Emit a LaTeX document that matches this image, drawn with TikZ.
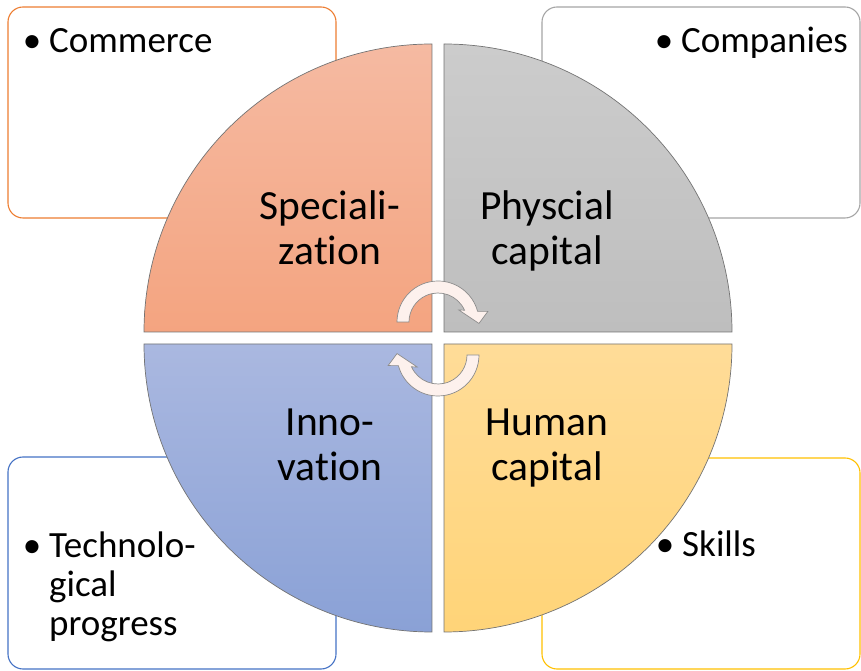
\documentclass[tikz,border=0pt]{standalone}
\usepackage{fontspec}
\setmainfont{Carlito}[Ligatures=NoCommon]

\definecolor{specTop}{RGB}{245,186,162}
\definecolor{specBot}{RGB}{244,164,128}
\definecolor{physTop}{RGB}{204,204,204}
\definecolor{physBot}{RGB}{190,190,190}
\definecolor{innoTop}{RGB}{170,184,224}
\definecolor{innoBot}{RGB}{138,161,214}
\definecolor{humTop}{RGB}{255,220,152}
\definecolor{humBot}{RGB}{255,212,120}
\definecolor{comEdge}{RGB}{237,125,49}
\definecolor{capEdge}{RGB}{165,165,165}
\definecolor{innEdge}{RGB}{68,114,196}
\definecolor{humEdge}{RGB}{255,192,0}
\definecolor{turnFill}{RGB}{253,241,237}

\begin{document}
\begin{tikzpicture}[x=1pt,y=1pt,
    box_style/.style={draw,rounded corners=15pt,line width=1.1pt,
                      minimum width=328pt,minimum height=211pt,inner sep=0pt},
    quad_style/.style={draw=black!55,line width=0.7pt},
    label_style/.style={align=center,anchor=base,inner sep=0pt,
                        font=\fontsize{41.5}{45}\selectfont},
    item_style/.style={align=left,anchor=base west,inner sep=0pt,
                       font=\fontsize{37}{39}\selectfont},
    turn_style/.style={draw=black!45,line width=0.7pt,fill=turnFill}]

  \useasboundingbox (0,0) rectangle (861,671);

  % boxes with the bullet points, behind the circle
  \node[box_style,draw=comEdge] (b_com) at (172,558.5) {};
  \node[box_style,draw=capEdge,minimum width=318pt] (b_cap) at (701,558.5) {};
  \node[box_style,draw=innEdge,minimum height=212pt] (b_inn) at (172,108) {};
  \node[box_style,draw=humEdge,minimum width=318pt] (b_hum) at (701,107.5) {};

  % the four quarters
  \path[quad_style,top color=specTop,bottom color=specBot]
    (432,339) -- (144,339) arc[start angle=180,end angle=90,radius=288] -- cycle;
  \path[quad_style,top color=physTop,bottom color=physBot]
    (444,339) -- (444,627) arc[start angle=90,end angle=0,radius=288] -- cycle;
  \path[quad_style,top color=innoTop,bottom color=innoBot]
    (432,327) -- (432,39) arc[start angle=270,end angle=180,radius=288] -- cycle;
  \path[quad_style,top color=humTop,bottom color=humBot]
    (444,327) -- (732,327) arc[start angle=0,end angle=-90,radius=288] -- cycle;

  % base of a two line node is its last line
  \node[label_style] (spec) at (330,406) {Speciali-\\zation};
  \node[label_style] (phys) at (547,406) {Physcial\\capital};
  \node[label_style] (inno) at (330,190) {Inno-\\vation};
  \node[label_style] (hum)  at (547,190) {Human\\capital};

  \node[item_style] (com)  at (49,618)  {\llap{\textbullet\hspace{8pt}}Commerce};
  \node[item_style] (comp) at (681,618) {\llap{\textbullet\hspace{8pt}}Companies};
  \node[item_style] (tech) at (49,35)   {\llap{\textbullet\hspace{8pt}}Technolo-\\gical\\progress};
  \node[item_style] (ski)  at (682,114) {\llap{\textbullet\hspace{8pt}}Skills};

  % the two turning arrows in the middle
  \begin{scope}[shift={(438,349)}]
    \draw[turn_style] (180:41) arc[start angle=180,end angle=15,radius=41]
      -- (12:51) -- (-2:41) -- (30:24) -- (24:29)
      arc[start angle=24,end angle=180,radius=29] -- cycle;
  \end{scope}
  \begin{scope}[shift={(438,316)},rotate=180]
    \draw[turn_style] (180:41) arc[start angle=180,end angle=15,radius=41]
      -- (12:51) -- (-2:41) -- (30:24) -- (24:29)
      arc[start angle=24,end angle=180,radius=29] -- cycle;
  \end{scope}
\end{tikzpicture}
\end{document}
